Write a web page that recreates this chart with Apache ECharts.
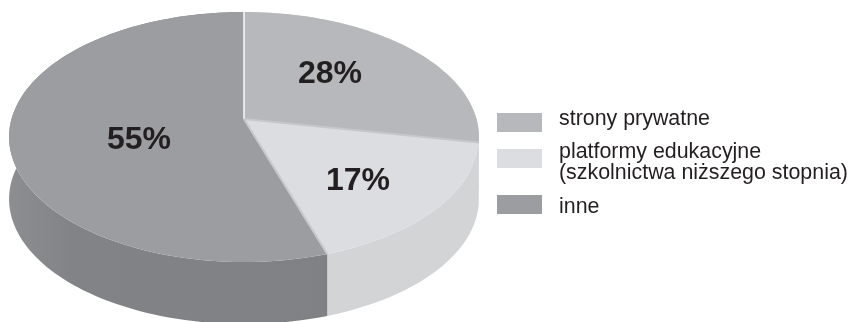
<!DOCTYPE html>
<html>
<head>
<meta charset="utf-8">
<style>html,body{margin:0;padding:0;background:#fff}#chart{width:849px;height:322px}</style>
<script src="https://cdn.jsdelivr.net/npm/echarts@6/dist/echarts.min.js"></script>
</head>
<body>
<div id="chart"></div>
<script>
// Udział stron w podziale na typy
const sliceNames = ['strony prywatne', 'platformy edukacyjne\n(szkolnictwa niższego stopnia)', 'inne'];
const sliceShares = [28, 17, 55];
const shareLabels = ['28%', '17%', '55%'];

// Kolory
const topColors = ['#b7b8bb', '#dcdde0', '#9c9da0'];
const rayColors = ['#ffffff', '#c6c7ca', '#c8c9cc'];
const INK = '#231f20';

// Uproszczona perspektywa tarczy: środek, promienie, zbieżność, grubość
const PIE = { x: 244, y: 119, a: 232.5, b: 122.4, k: 0.144, depth: 62 };
const labelSpots = [[330, 74], [358, 181], [139, 140]];
const legendRows = [
  { swatchY: 113, textTop: 109 },
  { swatchY: 149, textTop: 142 },
  { swatchY: 195, textTop: 197 }
];

// Punkt na krawędzi tarczy dla danego udziału w obwodzie (0..100, od góry zgodnie z zegarem)
function rim(share, dy) {
  const t = share / 100 * Math.PI * 2;
  const u = Math.sin(t), v = -Math.cos(t);
  const w = 1 - PIE.k * v;
  return [PIE.x + PIE.a * u / w, PIE.y + PIE.b * v / w + (dy || 0)];
}
function arc(from, to, dy) {
  const pts = [];
  const n = Math.max(2, Math.ceil((to - from) * 2));
  for (let i = 0; i <= n; i++) pts.push(rim(from + (to - from) * i / n, dy));
  return pts;
}

// Wiersze: początek wycinka, koniec wycinka, indeks
let acc = 0;
const rows = sliceShares.map((s, i) => { const r = [acc, acc + s, i]; acc += s; return r; });

function wallFill(i) {
  if (i === 2) {
    return new echarts.graphic.LinearGradient(0, 0, 1, 0, [
      { offset: 0, color: '#8d8e91' },
      { offset: 0.2, color: '#828386' },
      { offset: 1, color: '#808184' }
    ]);
  }
  return '#d3d4d6';
}

function renderWall(params, api) {
  const from = api.value(0), to = api.value(1), i = api.value(2);
  const upper = arc(from, to, 0);
  const lower = arc(from, to, PIE.depth).reverse();
  return {
    type: 'polygon',
    shape: { points: upper.concat(lower) },
    style: { fill: wallFill(i) }
  };
}

function renderTop(params, api) {
  const from = api.value(0), to = api.value(1), i = api.value(2);
  return {
    type: 'polygon',
    shape: { points: [[PIE.x, PIE.y]].concat(arc(from, to, 0)) },
    style: { fill: topColors[i] }
  };
}

function renderRay(params, api) {
  const from = api.value(0), i = api.value(2);
  const p = rim(from);
  return {
    type: 'line',
    shape: { x1: PIE.x, y1: PIE.y, x2: p[0], y2: p[1] },
    style: { stroke: rayColors[i], lineWidth: i === 0 ? 1.4 : 2 }
  };
}

function renderShareLabel(params, api) {
  const i = api.value(2);
  return {
    type: 'text',
    x: labelSpots[i][0], y: labelSpots[i][1],
    style: {
      text: shareLabels[i], fill: INK,
      font: 'bold 32px "Liberation Sans", Arial, sans-serif',
      align: 'center', verticalAlign: 'middle'
    }
  };
}

const legendGraphics = [];
sliceNames.forEach((name, i) => {
  legendGraphics.push({
    type: 'rect', left: 497, top: legendRows[i].swatchY,
    shape: { width: 45, height: 19 },
    style: { fill: topColors[i] }
  });
  legendGraphics.push({
    type: 'text', left: 559, top: legendRows[i].textTop,
    style: {
      text: name, fill: INK, lineHeight: 20.5,
      font: '21.4px "Liberation Sans", Arial, sans-serif'
    }
  });
});

const chart = echarts.init(document.getElementById('chart'), null, { renderer: 'canvas' });
chart.setOption({
  animation: false,
  backgroundColor: '#ffffff',
  series: [
    { type: 'custom', coordinateSystem: 'none', data: rows, renderItem: renderWall, silent: true, z: 1 },
    { type: 'custom', coordinateSystem: 'none', data: rows, renderItem: renderTop, silent: true, z: 2 },
    { type: 'custom', coordinateSystem: 'none', data: rows, renderItem: renderRay, silent: true, z: 3 },
    { type: 'custom', coordinateSystem: 'none', data: rows, renderItem: renderShareLabel, silent: true, z: 4 }
  ],
  graphic: legendGraphics
});
</script>
</body>
</html>
